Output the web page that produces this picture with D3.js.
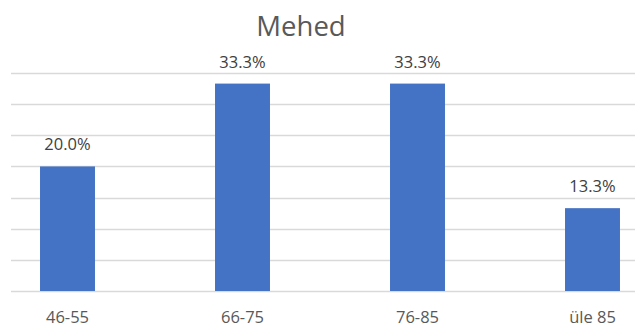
<!DOCTYPE html>
<html>
<head>
<meta charset="utf-8">
<script src="https://cdn.jsdelivr.net/npm/d3@7"></script>
<style>
  html, body { margin: 0; padding: 0; background: #fff; }
  svg { display: block; }
</style>
</head>
<body>
<svg id="chart" width="635" height="329"></svg>
<script>
// Age groups and their share (%) of men
const categories = ["46-55", "66-75", "76-85", "üle 85"];
const values = [20.0, 33.3, 33.3, 13.3];
const yTicks = [0, 5, 10, 15, 20, 25, 30, 35];
const title = "Mehed";

const W = 635, H = 329;
const font = "'Open Sans', sans-serif";
const svg = d3.select("#chart");

const plot = { left: 11, right: 635, top: 73, bottom: 291 };

const x = d3.scaleBand()
  .domain(categories)
  .range([-20, 680])
  .paddingInner(0.686)
  .paddingOuter(0.343);

const y = d3.scaleLinear()
  .domain([0, 35])
  .range([plot.bottom, plot.top]);

// Horizontal gridlines
svg.append("g")
  .selectAll("line")
  .data(yTicks)
  .join("line")
  .attr("x1", plot.left)
  .attr("x2", plot.right)
  .attr("y1", d => Math.round(y(d)) + 0.5)
  .attr("y2", d => Math.round(y(d)) + 0.5)
  .attr("stroke", "#d9d9d9")
  .attr("stroke-width", 1.5);

// Bars
svg.append("g")
  .selectAll("rect")
  .data(values)
  .join("rect")
  .attr("x", (d, i) => x(categories[i]))
  .attr("width", x.bandwidth())
  .attr("y", d => y(d))
  .attr("height", d => y(0) - y(d))
  .attr("fill", "#4472c4");

// Value labels
svg.append("g")
  .selectAll("text")
  .data(values)
  .join("text")
  .attr("x", (d, i) => x(categories[i]) + x.bandwidth() / 2)
  .attr("y", d => y(d) - 16)
  .attr("text-anchor", "middle")
  .attr("font-family", font)
  .attr("font-size", 16.5)
  .attr("fill", "#404040")
  .text(d => d.toFixed(1) + "%");

// Category axis labels
const xAxis = d3.axisBottom(x).tickSize(0).tickPadding(0);
const gx = svg.append("g")
  .attr("transform", `translate(0, ${plot.bottom})`)
  .call(xAxis);
gx.select(".domain").remove();
gx.selectAll("text")
  .attr("y", 32)
  .attr("dy", null)
  .attr("font-family", font)
  .attr("font-size", 16.5)
  .attr("fill", "#595959");

// Title
svg.append("text")
  .attr("x", 301)
  .attr("y", 36)
  .attr("text-anchor", "middle")
  .attr("font-family", font)
  .attr("font-size", 27.5)
  .attr("fill", "#595959")
  .text(title);
</script>
</body>
</html>
